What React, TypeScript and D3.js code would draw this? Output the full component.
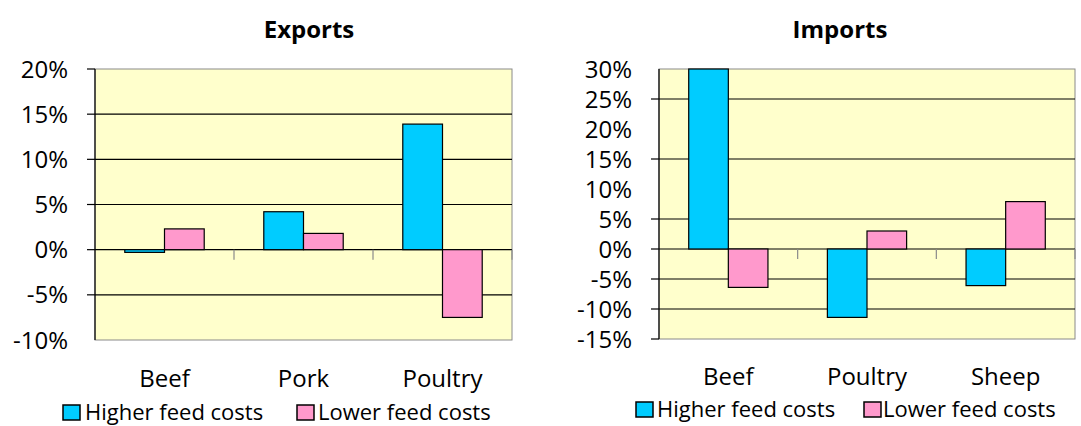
import React from 'react';
import { scaleBand, scaleLinear } from 'd3';

const series = ['Higher feed costs', 'Lower feed costs'];
const colors = ['#00CCFF', '#FF99CC'];

const exportCats = ['Beef', 'Pork', 'Poultry'];
const exportHigher = [-0.3, 4.2, 13.9];
const exportLower = [2.3, 1.8, -7.5];
const exportTicks = [-10, -5, 0, 5, 10, 15, 20];
const exportGrid = [-5, 0, 5, 10, 15];

const importCats = ['Beef', 'Poultry', 'Sheep'];
const importHigher = [30, -11.4, -6.1];
const importLower = [-6.4, 3, 7.9];
const importTicks = [-15, -10, -5, 0, 5, 10, 15, 20, 25, 30];
const importGrid = [-10, -5, 0, 5, 15, 25];

const font = "'Open Sans', 'Noto Sans', sans-serif";

type PanelProps = {
  title: string;
  cats: string[];
  values: number[][];
  ticks: number[];
  grid: number[];
  box: { left: number; right: number; top: number; bottom: number };
  titleX: number;
  catY: number;
  legend: { y: number; x: number[]; tx: number[] };
  tickMarks: number[];
};

const Panel = ({ title, cats, values, ticks, grid, box, titleX, catY, legend, tickMarks }: PanelProps) => {
  const y = scaleLinear()
    .domain([ticks[0], ticks[ticks.length - 1]])
    .range([box.bottom, box.top]);
  const x0 = scaleBand().domain(cats).range([box.left, box.right]);
  const x1 = scaleBand()
    .domain(series)
    .range([0, x0.bandwidth()])
    .paddingOuter(0.75)
    .paddingInner(0);

  return (
    <g>
      <text x={titleX} y={38} textAnchor="middle" fontSize={24} fontWeight="bold" fontFamily={font}>
        {title}
      </text>
      <rect x={box.left} y={box.top} width={box.right - box.left} height={box.bottom - box.top}
        fill="#FFFFCC" stroke="#8a8a8a" strokeWidth={1} />
      {grid.map(v => (
        <line key={'g' + v} x1={box.left} x2={box.right} y1={y(v)} y2={y(v)} stroke="#000" strokeWidth={1.2} />
      ))}
      {tickMarks.map(v => (
        <line key={'t' + v} x1={box.left - 8} x2={box.left} y1={y(v)} y2={y(v)} stroke="#000" strokeWidth={1.2} />
      ))}
      {ticks.map(v => (
        <text key={'l' + v} x={box.left - 27} y={y(v)} dy="0.36em" textAnchor="end" fontSize={24} fontFamily={font}>
          {v + '%'}
        </text>
      ))}
      {cats.slice(1).concat(['end']).map((c, i) => {
        const xx = i < cats.length - 1 ? x0(c)! : box.right;
        return <line key={'c' + i} x1={xx} x2={xx} y1={y(0)} y2={y(0) + 10} stroke="#8a8a8a" strokeWidth={1.2} />;
      })}
      {cats.map((c, ci) =>
        series.map((s, si) => {
          const v = values[si][ci];
          const y0 = y(Math.max(0, v));
          const h = Math.abs(y(v) - y(0));
          return (
            <rect key={c + s} x={x0(c)! + x1(s)!} y={y0} width={x1.bandwidth()} height={Math.max(h, 1.5)}
              fill={colors[si]} stroke="#000" strokeWidth={1.2} />
          );
        })
      )}
      <line x1={box.left} x2={box.left} y1={box.top} y2={box.bottom} stroke="#000" strokeWidth={1.2} />
      {cats.map(c => (
        <text key={'n' + c} x={x0(c)! + x0.bandwidth() / 2} y={catY} textAnchor="middle" fontSize={24} fontFamily={font}>
          {c}
        </text>
      ))}
      {series.map((s, si) => (
        <g key={'lg' + s}>
          <rect x={legend.x[si]} y={legend.y - 15} width={17} height={15} fill={colors[si]} stroke="#000" strokeWidth={1.5} />
          <text x={legend.tx[si]} y={legend.y} fontSize={22} fontFamily={font}>{s}</text>
        </g>
      ))}
    </g>
  );
};

export default function App() {
  return (
    <svg width={1081} height={426} style={{ position: 'absolute', left: 0, top: 0, background: '#fff' }}>
      <Panel
        title="Exports"
        cats={exportCats}
        values={[exportHigher, exportLower]}
        ticks={exportTicks}
        grid={exportGrid}
        tickMarks={[20, 15, 10, 5, 0, -5]}
        box={{ left: 95, right: 512, top: 69, bottom: 340 }}
        titleX={309}
        catY={387}
        legend={{ y: 420, x: [63, 297], tx: [85, 318] }}
      />
      <Panel
        title="Imports"
        cats={importCats}
        values={[importHigher, importLower]}
        ticks={importTicks}
        grid={importGrid}
        tickMarks={[25, 15, 5, 0, -5, -10, -15]}
        box={{ left: 659, right: 1075, top: 69, bottom: 339 }}
        titleX={840}
        catY={385}
        legend={{ y: 417, x: [636, 864], tx: [657, 883] }}
      />
    </svg>
  );
}
